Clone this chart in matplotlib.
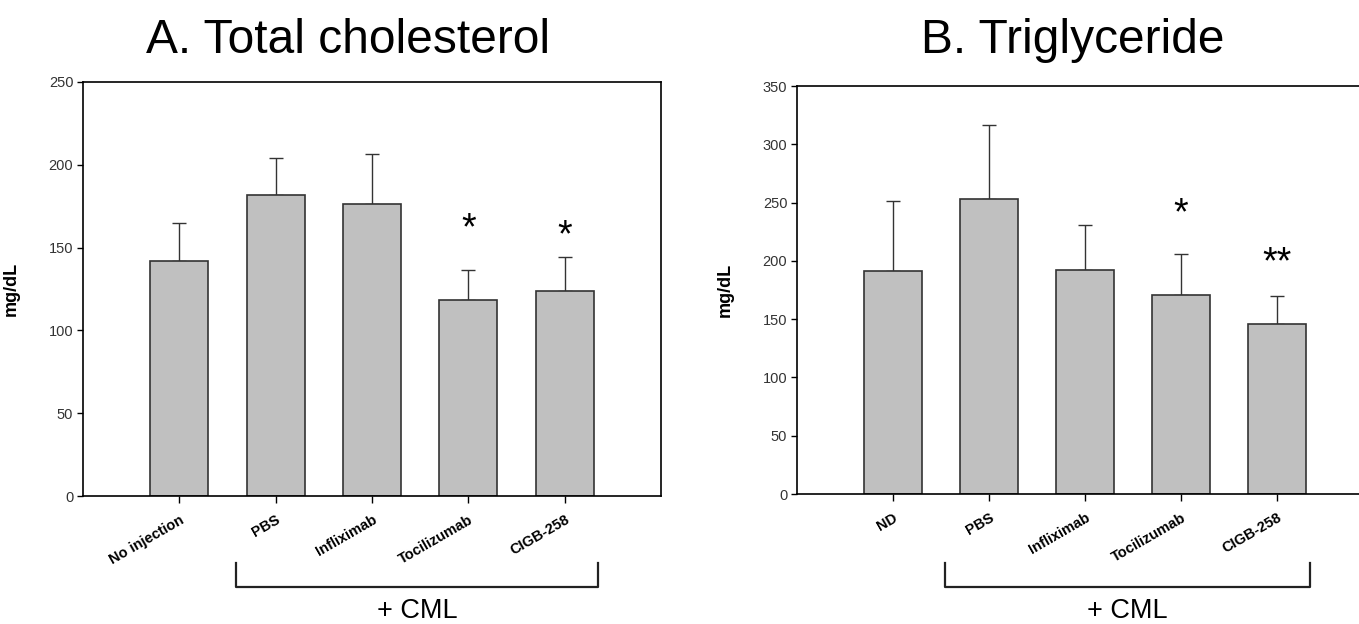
import matplotlib
matplotlib.use('Agg')
import matplotlib.pyplot as plt

plt.rcParams['font.family'] = ['Liberation Sans', 'DejaVu Sans']

# A. total cholesterol
chol_labels = ['No injection', 'PBS', 'Infliximab', 'Tocilizumab', 'CIGB-258']
chol_mean = [142, 182, 176.5, 118.5, 124]
chol_err = [23, 22, 30, 18, 20.5]
chol_stars = ['', '', '', '*', '*']
chol_star_y = [0, 0, 0, 165, 160.5]

# B. triglyceride
tg_labels = ['ND', 'PBS', 'Infliximab', 'Tocilizumab', 'CIGB-258']
tg_mean = [191, 253, 192, 171, 146]
tg_err = [60, 63.5, 39, 35, 24]
tg_stars = ['', '', '', '*', '**']
tg_star_y = [0, 0, 0, 245, 203]

W, H = 1359, 624
fig = plt.figure(figsize=(W / 100, H / 100), dpi=100)


def panel(rect, labels, mean, err, stars, star_y, ymax, step, title, title_x, bracket_px):
    ax = fig.add_axes(rect)
    x = list(range(1, len(labels) + 1))
    ax.bar(x, mean, width=0.6, color='#c0c0c0', edgecolor='#333333', linewidth=1.2, zorder=2)
    ax.errorbar(x, mean, yerr=[[0] * len(err), err], fmt='none', ecolor='#333333',
                elinewidth=1.0, capsize=5, capthick=1.0, zorder=1)
    for xi, s, sy in zip(x, stars, star_y):
        if s:
            # asterisk glyph sits high in its box, so shift the anchor down a bit
            ax.annotate(s, (xi, sy), xytext=(0, -4.5), textcoords='offset points',
                        ha='center', va='center', fontsize=27)
    ax.set_xlim(0, 6)
    ax.set_ylim(0, ymax)
    ax.set_yticks(range(0, ymax + 1, step))
    ax.set_xticks(x)
    ax.set_xticklabels(labels, rotation=30, ha='right', rotation_mode='anchor',
                       fontsize=10.5, fontweight='bold')
    ax.tick_params(axis='x', length=5, width=1, pad=7)
    ax.tick_params(axis='y', length=4, width=1, pad=3, labelsize=10.5, labelcolor='#333333')
    for sp in ax.spines.values():
        sp.set_linewidth(1.2)
    ax.set_ylabel('mg/dL', fontsize=13, fontweight='bold')
    ax.yaxis.set_label_coords(-63 / (rect[2] * W), 0.5)
    fig.text(title_x / W, 1 - 53 / H, title, ha='center', va='baseline', fontsize=34.5)
    # bracket for the +CML groups
    x0, x1 = bracket_px
    fx0, fx1 = x0 / W, x1 / W
    ytop, ybot = 1 - 563 / H, 1 - 587 / H
    fig.lines.append(plt.Line2D([fx0, fx0, fx1, fx1], [ytop, ybot, ybot, ytop],
                                transform=fig.transFigure, color='#222222', lw=1.6,
                                solid_joinstyle='round'))
    fig.text((fx0 + fx1) / 2, 1 - 618 / H, '+ CML', ha='center', va='baseline', fontsize=19.5)
    return ax


panel([83 / W, 1 - 496 / H, 578 / W, 414 / H], chol_labels, chol_mean, chol_err,
      chol_stars, chol_star_y, 250, 50, 'A. Total cholesterol', 348, (236, 598))
panel([797 / W, 1 - 494 / H, 576 / W, 408 / H], tg_labels, tg_mean, tg_err,
      tg_stars, tg_star_y, 350, 50, 'B. Triglyceride', 1073, (945, 1310))

fig.savefig('out.png', dpi=100)
